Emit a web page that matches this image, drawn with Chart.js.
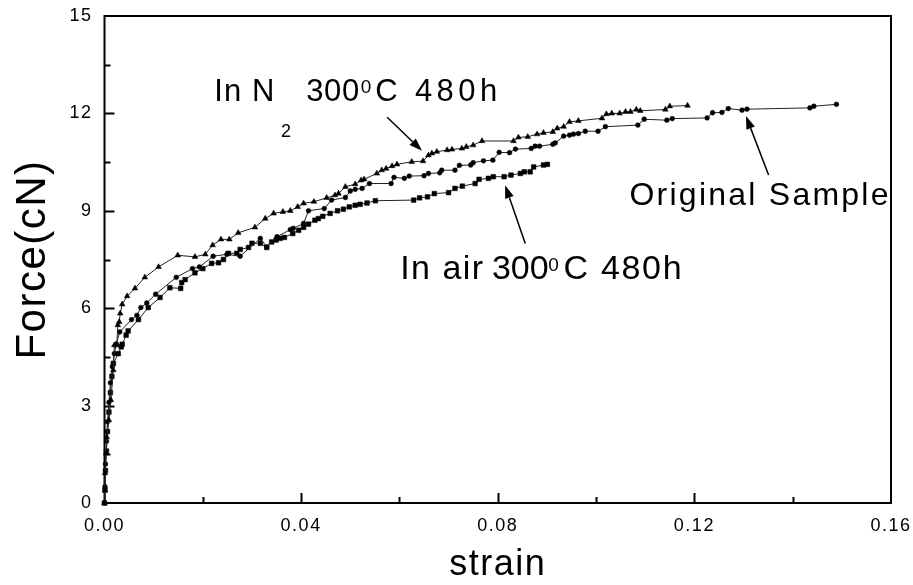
<!DOCTYPE html>
<html>
<head>
<meta charset="utf-8">
<script src="https://cdn.jsdelivr.net/npm/chart.js@4.4.0/dist/chart.umd.min.js"></script>
<style>
  html, body { margin: 0; padding: 0; background: #fff; }
</style>
</head>
<body>
<canvas id="forceChart" width="913" height="585"></canvas>
<script>
var FONT = '"Liberation Sans", Arial, Helvetica, sans-serif';

// In N2 300°C 480h (triangles)
var n2Strain = [0, 0.0001, 0.0001, 0.0003, 0.00045, 0.0009, 0.0013, 0.0018, 0.002, 0.0025, 0.0027, 0.003, 0.0032, 0.0036,
  0.0046, 0.0062, 0.0082, 0.011, 0.0149, 0.0184, 0.0205, 0.022, 0.0237, 0.0254, 0.0272, 0.0306, 0.0327, 0.0344,
  0.0363, 0.0378, 0.0393, 0.0405, 0.0426, 0.0452, 0.0469, 0.0476, 0.049, 0.051, 0.0522, 0.0528, 0.0554, 0.0564,
  0.0573, 0.0585, 0.0595, 0.0625, 0.0648, 0.0659, 0.0666, 0.0676, 0.0697, 0.0707, 0.0727, 0.0736, 0.075, 0.0768,
  0.0832, 0.0842, 0.0861, 0.088, 0.0893, 0.0912, 0.0921, 0.0934, 0.0946, 0.0964, 0.1012, 0.1021, 0.1032, 0.1048,
  0.106, 0.107, 0.1082, 0.109, 0.1141, 0.115, 0.1186];
var n2Force = [0, 0.39, 0.92, 1.53, 2.03, 2.55, 3.17, 4.09, 4.86, 4.86, 5.48, 5.58, 5.84, 6.12,
  6.37, 6.61, 6.95, 7.27, 7.63, 7.58, 7.66, 7.94, 8.12, 8.12, 8.32, 8.49, 8.76, 8.92,
  8.97, 9.0, 9.12, 9.23, 9.28, 9.4, 9.48, 9.53, 9.74, 9.82, 9.94, 9.97, 10.15, 10.25,
  10.3, 10.38, 10.43, 10.51, 10.53, 10.71, 10.77, 10.82, 10.87, 10.89, 10.92, 10.97, 11.02, 11.15,
  11.15, 11.26, 11.28, 11.36, 11.4, 11.43, 11.54, 11.59, 11.74, 11.77, 11.85, 11.98, 12.0, 12.0,
  12.05, 12.05, 12.12, 12.08, 12.12, 12.22, 12.24];

// Original sample (circles)
var origStrain = [0, 0.0001, 0.0002, 0.0004, 0.0006, 0.0009, 0.0012, 0.0016, 0.002, 0.0024, 0.0031, 0.0055, 0.0066,
  0.0074, 0.0086, 0.0104, 0.0146, 0.0179, 0.0193, 0.0221, 0.0249, 0.0276, 0.0317, 0.033, 0.0351, 0.0378, 0.0384,
  0.0405, 0.0415, 0.0447, 0.0462, 0.049, 0.05, 0.051, 0.0524, 0.0539, 0.0583, 0.0589, 0.061, 0.062, 0.065, 0.0659,
  0.0682, 0.0686, 0.0713, 0.0722, 0.0745, 0.075, 0.0771, 0.079, 0.0803, 0.0824, 0.0836, 0.0868, 0.0876, 0.0885,
  0.0912, 0.0917, 0.0934, 0.0946, 0.0954, 0.0964, 0.0978, 0.1004, 0.1019, 0.1085, 0.1098, 0.1144, 0.1155, 0.1226,
  0.1237, 0.1256, 0.1269, 0.1297, 0.1307, 0.1435, 0.1443, 0.1489];
var origForce = [0, 0.5, 1.2, 1.9, 2.5, 3.1, 3.7, 4.2, 4.6, 4.9, 5.27, 5.65, 5.78,
  6.02, 6.16, 6.43, 6.95, 7.22, 7.27, 7.6, 7.66, 7.6, 8.15, 7.89, 8.2, 8.42, 8.46,
  8.61, 9.0, 9.07, 9.33, 9.41, 9.61, 9.66, 9.69, 9.84, 9.84, 10.03, 10.0, 10.07, 10.08, 10.15,
  10.17, 10.25, 10.25, 10.4, 10.41, 10.48, 10.54, 10.56, 10.8, 10.79, 10.9, 10.92, 10.99, 10.99,
  11.05, 11.09, 11.3, 11.33, 11.36, 11.38, 11.45, 11.45, 11.59, 11.64, 11.82, 11.79, 11.84, 11.86,
  12.02, 12.03, 12.15, 12.1, 12.13, 12.17, 12.22, 12.28];

// In air 300°C 480h (squares)
var airStrain = [0, 0.0001, 0.0002, 0.0004, 0.0006, 0.0009, 0.0012, 0.0015, 0.0018, 0.0028, 0.0034, 0.0036, 0.0044,
  0.0048, 0.0069, 0.0089, 0.0113, 0.0133, 0.0155, 0.0157, 0.0164, 0.0184, 0.02, 0.0218, 0.0232, 0.0242, 0.0252,
  0.0269, 0.0276, 0.0293, 0.03, 0.0317, 0.033, 0.034, 0.0349, 0.0357, 0.0366, 0.0383, 0.0395, 0.0405, 0.0415,
  0.0428, 0.0435, 0.0444, 0.0459, 0.0474, 0.0486, 0.0498, 0.051, 0.052, 0.0534, 0.0551, 0.0629, 0.0641, 0.0657,
  0.0671, 0.07, 0.0713, 0.0728, 0.0754, 0.0762, 0.0781, 0.0791, 0.0813, 0.0827, 0.0846, 0.0854, 0.0866, 0.0873,
  0.0893, 0.0901];
var airForce = [0, 0.4, 1.0, 1.6, 2.2, 2.8, 3.4, 3.9, 4.3, 4.6, 4.81, 4.89, 5.17,
  5.3, 5.65, 6.02, 6.33, 6.63, 6.61, 6.79, 6.88, 7.09, 7.22, 7.38, 7.4, 7.5, 7.69,
  7.69, 7.81, 7.87, 8.0, 8.0, 7.87, 8.04, 8.1, 8.15, 8.18, 8.3, 8.4, 8.49, 8.59,
  8.71, 8.76, 8.83, 8.92, 9.0, 9.05, 9.12, 9.17, 9.2, 9.24, 9.31, 9.33, 9.4, 9.43,
  9.53, 9.56, 9.69, 9.76, 9.84, 9.97, 10.0, 10.05, 10.05, 10.1, 10.15, 10.2, 10.2, 10.35,
  10.41, 10.43];

var xTickLabels = ['0.00', '0.04', '0.08', '0.12', '0.16'];
var yTickLabels = ['0', '3', '6', '9', '12', '15'];

// text pieces (data coords of left/baseline) and arrows (tail -> head)
var notes = [
  { text: 'In N', x: 0.02233, y: 12.39, size: 31, width: 60 },
  { text: '2', x: 0.03593, y: 11.28, size: 18, width: 0 },
  { text: '300', x: 0.04102, y: 12.39, size: 31, width: 53 },
  { text: '0', x: 0.05215, y: 12.62, size: 19, width: 0 },
  { text: 'C 480h', x: 0.05506, y: 12.39, size: 31, width: 122 },
  { text: 'In air', x: 0.06015, y: 6.885, size: 34, width: 83 },
  { text: '300', x: 0.07882, y: 6.885, size: 34, width: 55 },
  { text: '0', x: 0.09028, y: 7.15, size: 19, width: 0 },
  { text: 'C 480h', x: 0.09339, y: 6.885, size: 34, width: 118 },
  { text: 'Original Sample', x: 0.1068, y: 9.17, size: 32, width: 259 }
];
var arrows = [
  [0.0575, 11.88, 0.0646, 10.85],
  [0.0856, 7.99, 0.0815, 9.79],
  [0.1351, 10.10, 0.1305, 11.92]
];

function toPoints(xs, ys) {
  return xs.map(function(x, i) { return { x: x, y: ys[i] }; });
}

var framePlugin = {
  id: 'frame',
  beforeDraw: function(chart) {
    chart.ctx.letterSpacing = '1.5px';
  },
  beforeDatasetsDraw: function(chart) {
    var ctx = chart.ctx, a = chart.chartArea;
    var xs = chart.scales.x, ys = chart.scales.y;
    ctx.save();
    ctx.strokeStyle = '#000';
    ctx.lineWidth = 2;
    ctx.strokeRect(a.left, a.top, a.right - a.left, a.bottom - a.top);
    ctx.beginPath();
    for (var v = 0.02; v < 0.16; v += 0.02) {
      var px = Math.round(xs.getPixelForValue(v)) + 0.5;
      var len = Math.round(v / 0.02) % 2 === 0 ? 10 : 6;
      ctx.moveTo(px, a.bottom);
      ctx.lineTo(px, a.bottom - len);
    }
    for (var w = 1.5; w < 15; w += 1.5) {
      var py = Math.round(ys.getPixelForValue(w)) + 0.5;
      var l2 = Math.round(w / 1.5) % 2 === 0 ? 10 : 6;
      ctx.moveTo(a.left, py);
      ctx.lineTo(a.left + l2, py);
    }
    ctx.stroke();
    ctx.restore();
  },
  afterDatasetsDraw: function(chart) {
    var ctx = chart.ctx;
    var xs = chart.scales.x, ys = chart.scales.y;
    ctx.save();
    ctx.fillStyle = '#000';
    ctx.strokeStyle = '#000';
    ctx.textAlign = 'left';
    ctx.textBaseline = 'alphabetic';
    notes.forEach(function(n) {
      ctx.font = n.size + 'px ' + FONT;
      ctx.letterSpacing = '0px';
      var gap = 0;
      if (n.width && n.text.length > 1) {
        gap = Math.max(0, (n.width - ctx.measureText(n.text).width) / (n.text.length - 1));
      }
      ctx.letterSpacing = gap + 'px';
      ctx.fillText(n.text, xs.getPixelForValue(n.x), ys.getPixelForValue(n.y));
    });
    ctx.lineWidth = 1.5;
    arrows.forEach(function(ar) {
      var x1 = xs.getPixelForValue(ar[0]), y1 = ys.getPixelForValue(ar[1]);
      var x2 = xs.getPixelForValue(ar[2]), y2 = ys.getPixelForValue(ar[3]);
      var ang = Math.atan2(y2 - y1, x2 - x1);
      var hl = 13, hw = 4.5;
      var bx = x2 - hl * Math.cos(ang), by = y2 - hl * Math.sin(ang);
      ctx.beginPath();
      ctx.moveTo(x1, y1);
      ctx.lineTo(bx, by);
      ctx.stroke();
      ctx.beginPath();
      ctx.moveTo(x2, y2);
      ctx.lineTo(bx + hw * Math.sin(ang), by - hw * Math.cos(ang));
      ctx.lineTo(bx - hw * Math.sin(ang), by + hw * Math.cos(ang));
      ctx.closePath();
      ctx.fill();
    });
    ctx.restore();
  }
};

var seriesStyle = function(label, pts, shape, r) {
  return {
    label: label,
    data: pts,
    showLine: true,
    borderColor: '#222',
    borderWidth: 1,
    pointStyle: shape,
    pointRadius: r,
    pointBackgroundColor: '#000',
    pointBorderColor: '#000',
    pointBorderWidth: 0.5,
    clip: false
  };
};

new Chart(document.getElementById('forceChart'), {
  type: 'scatter',
  data: {
    datasets: [
      seriesStyle('In N2 300°C 480h', toPoints(n2Strain, n2Force), 'triangle', 3.3),
      seriesStyle('Original Sample', toPoints(origStrain, origForce), 'circle', 2.4),
      seriesStyle('In air 300°C 480h', toPoints(airStrain, airForce), 'rect', 3.3)
    ]
  },
  options: {
    responsive: false,
    animation: false,
    devicePixelRatio: 1,
    layout: { padding: { top: 16, right: 22, left: 0, bottom: 0 } },
    plugins: { legend: { display: false }, tooltip: { enabled: false } },
    scales: {
      x: {
        type: 'linear',
        min: 0,
        max: 0.16,
        afterFit: function(s) {
          s.height = 82;
          s.paddingLeft = 0;
          s.paddingRight = 0;
        },
        grid: { display: false, drawTicks: false },
        border: { display: false },
        ticks: {
          stepSize: 0.02,
          padding: 12,
          color: '#000',
          font: { family: FONT, size: 18 },
          maxRotation: 0,
          autoSkip: false,
          callback: function(v) {
            var s = Number(v).toFixed(2);
            return xTickLabels.indexOf(s) >= 0 ? s : '';
          }
        },
        title: {
          display: true,
          text: 'strain',
          color: '#000',
          font: { family: FONT, size: 36, lineHeight: 1 },
          padding: { top: 0, bottom: 2 }
        }
      },
      y: {
        min: 0,
        max: 15,
        afterFit: function(s) {
          s.width = 104.5;
          s.paddingTop = 0;
          s.paddingBottom = 0;
        },
        grid: { display: false, drawTicks: false },
        border: { display: false },
        ticks: {
          stepSize: 1.5,
          padding: 12,
          color: '#000',
          font: { family: FONT, size: 18 },
          autoSkip: false,
          callback: function(v) {
            var s = String(Math.round(v * 10) / 10);
            return yTickLabels.indexOf(s) >= 0 ? s : '';
          }
        },
        title: {
          display: true,
          text: 'Force(cN)',
          color: '#000',
          font: { family: FONT, size: 42, lineHeight: 1 },
          padding: { top: 12, bottom: 0 }
        }
      }
    }
  },
  plugins: [framePlugin]
});
</script>
</body>
</html>
